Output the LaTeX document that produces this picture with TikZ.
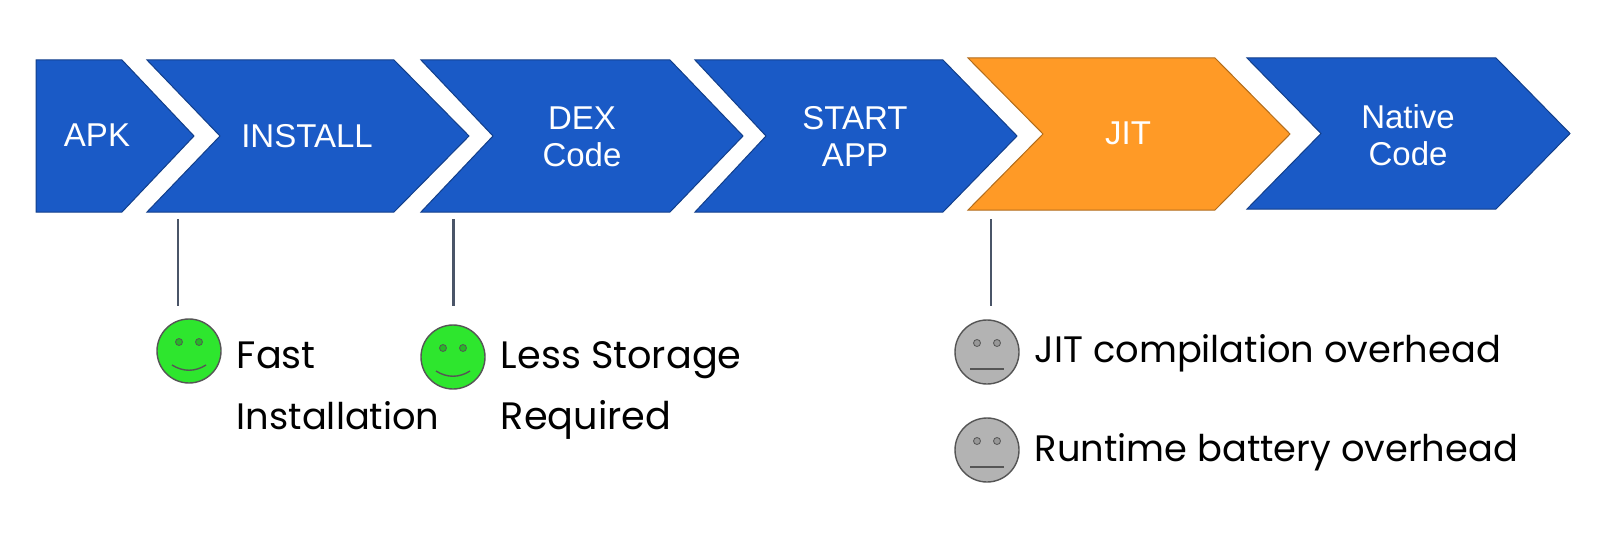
\documentclass[tikz,border=0pt]{standalone}
\usepackage{fontspec}
\setmainfont{Liberation Sans}
\newfontfamily\notefont{Poppins}
\definecolor{chevblue}{HTML}{1A5AC6}
\definecolor{chevorange}{HTML}{FF9A26}
\definecolor{facegreen}{HTML}{2EE62E}
\definecolor{facegrey}{HTML}{B3B3B3}
\definecolor{facedraw}{HTML}{555555}
\definecolor{linkcol}{HTML}{4A5568}
\tikzset{
  chevlabel/.style={text=white,align=center,font=\fontsize{16.5}{18.5}\selectfont},
  notelabel/.style={text=black,anchor=base west,inner sep=0pt,font=\notefont\fontsize{18.4}{20}\selectfont},
  widelabel/.style={notelabel,font=\notefont\fontsize{19.1}{20}\selectfont},
  facebox/.style={circle,draw=facedraw,line width=0.7pt,minimum size=32pt,inner sep=0pt},
  linkline/.style={draw=linkcol,line width=1.2pt}
}
\begin{document}
\begin{tikzpicture}[x=0.5pt,y=-0.5pt]
  \useasboundingbox (0,0) rectangle (1598,556);

  % chevrons: name/left/notch/right/tip/top/bottom/colour
  \foreach \Name/\xa/\xb/\xc/\xd/\ya/\yb/\Col in {
      apk/36/36/122/194/60/212/chevblue,
      install/147/220/394/469/60/212/chevblue,
      dex/421/493/670/743/60/212/chevblue,
      start/695/766/943/1017/60/212/chevblue,
      jit/968/1043/1215/1290/58/210/chevorange,
      native/1247/1321/1496/1570/58/209/chevblue} {
    \draw[draw=\Col!70!black,line width=0.5pt,fill=\Col]
      (\xa,\ya) -- (\xc,\ya) -- (\xd,{(\ya+\yb)/2}) -- (\xc,\yb) -- (\xa,\yb)
      -- (\xb,{(\ya+\yb)/2}) -- cycle;
  }

  \node[chevlabel] (apklabel) at (97,135) {APK};
  \node[chevlabel] (installlabel) at (307,136) {INSTALL};
  \node[chevlabel] (dexlabel) at (582,137) {DEX\\Code};
  \node[chevlabel] (startlabel) at (855,136) {START\\APP};
  \node[chevlabel] (jitlabel) at (1128,133) {JIT};
  \node[chevlabel] (nativelabel) at (1408,135) {Native\\Code};

  % links below the chevrons
  \coordinate (link1a) at (178,219);
  \coordinate (link1b) at (178,306);
  \coordinate (link2a) at (453.5,219);
  \coordinate (link2b) at (453.5,306);
  \coordinate (link3a) at (991,219);
  \coordinate (link3b) at (991,306);
  \foreach \Node in {1,2,3} {
    \draw[linkline] (link\Node a) -- (link\Node b);
  }

  % smiling faces
  \foreach \Name/\x/\y in {fast/189/351,less/453/357} {
    \node[facebox,fill=facegreen] (\Name) at (\x,\y) {};
    \foreach \s in {-1,1} {
      \fill[fill=facegreen!80!black,draw=facedraw,line width=0.4pt] (\x+\s*10,\y-9) circle (3.5);
    }
    \draw[facedraw,line width=0.7pt] (\x-17,\y+14) .. controls (\x-6,\y+21) and (\x+6,\y+21) .. (\x+17,\y+14);
  }

  % neutral faces
  \foreach \Name/\x/\y in {overhead/987/352,battery/987/450} {
    \node[facebox,fill=facegrey] (\Name) at (\x,\y) {};
    \foreach \s in {-1,1} {
      \fill[fill=facegrey!85!black,draw=facedraw,line width=0.4pt] (\x+\s*10,\y-9) circle (3.5);
    }
    \draw[facedraw,line width=0.7pt] (\x-17,\y+17) -- (\x+17,\y+17);
  }

  \node[widelabel] (fastnote) at (236.5,368) {Fast};
  \node[notelabel] (installnote) at (236.5,429) {Installation};
  \node[widelabel] (lessnote) at (500.5,368) {Less Storage};
  \node[widelabel] (requirednote) at (500.5,429) {Required};
  \node[notelabel] (overheadnote) at (1034.5,362) {JIT compilation overhead};
  \node[notelabel] (batterynote) at (1034.5,461) {Runtime battery overhead};
\end{tikzpicture}
\end{document}
